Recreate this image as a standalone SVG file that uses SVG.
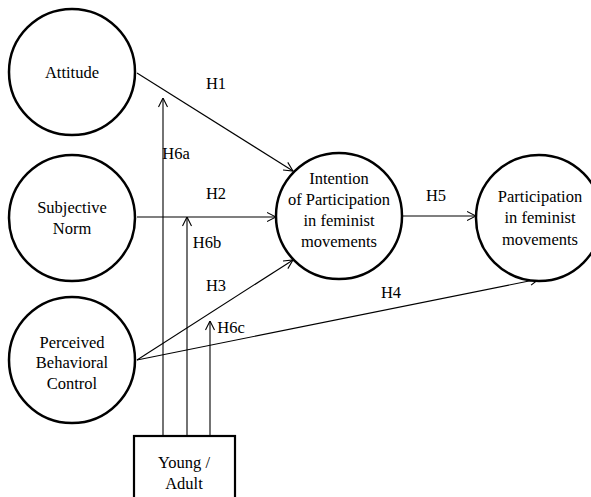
<svg xmlns="http://www.w3.org/2000/svg" width="591" height="497" viewBox="0 0 591 497">
<style>
.node{fill:#fff;stroke:#000;stroke-width:2.5}
.box{fill:#fff;stroke:#000;stroke-width:2.2}
text{font-family:'Liberation Serif','Times New Roman',serif;font-size:16.5px;fill:#000;text-anchor:middle}
.edge{stroke:#000;stroke-width:1.1;fill:none;marker-end:url(#arr)}
</style>
<defs>
<marker id="arr" viewBox="0 0 10 10" refX="9.5" refY="5" markerWidth="10" markerHeight="10" markerUnits="userSpaceOnUse" orient="auto">
<path d="M0.5,0.5 L9.5,5 L0.5,9.5" fill="none" stroke="#000" stroke-width="1.1"/>
</marker>
</defs>
<rect width="591" height="497" fill="#fff"/>
<g id="connectors">
<line class="edge" x1="137" y1="73" x2="293" y2="171"/>
<line class="edge" x1="137" y1="217" x2="276" y2="217"/>
<line class="edge" x1="137" y1="360" x2="293" y2="260"/>
<line class="edge" x1="137" y1="360" x2="539" y2="279"/>
<line class="edge" x1="403" y1="216" x2="476" y2="216"/>
<line class="edge" x1="163" y1="436" x2="163" y2="98"/>
<line class="edge" x1="187" y1="436" x2="187" y2="217"/>
<line class="edge" x1="210" y1="436" x2="210" y2="321"/>
<text x="216" y="89">H1</text>
<text x="176" y="159">H6a</text>
<text x="216" y="199">H2</text>
<text x="207" y="248">H6b</text>
<text x="216" y="291">H3</text>
<text x="231" y="333">H6c</text>
<text x="391" y="298">H4</text>
<text x="436" y="201">H5</text>
</g>
<g id="attitude">
<circle class="node" cx="72" cy="72" r="63"/>
<text x="72" y="78">Attitude</text>
</g>
<g id="subjective-norm">
<circle class="node" cx="72" cy="218" r="63"/>
<text x="72" y="213">Subjective</text>
<text x="72" y="234">Norm</text>
</g>
<g id="pbc">
<circle class="node" cx="72" cy="360" r="63"/>
<text x="72" y="348">Perceived</text>
<text x="72" y="368">Behavioral</text>
<text x="72" y="389">Control</text>
</g>
<g id="intention">
<circle class="node" cx="339" cy="216" r="63"/>
<text x="339" y="184">Intention</text>
<text x="339" y="205">of Participation</text>
<text x="339" y="226">in feminist</text>
<text x="339" y="247">movements</text>
</g>
<g id="participation">
<circle class="node" cx="539" cy="218" r="63"/>
<text x="540" y="202">Participation</text>
<text x="540" y="223">in feminist</text>
<text x="540" y="245">movements</text>
</g>
<g id="young-adult">
<rect class="box" x="134" y="436" width="101" height="70"/>
<text x="184" y="468">Young /</text>
<text x="184" y="489">Adult</text>
</g>
</svg>
